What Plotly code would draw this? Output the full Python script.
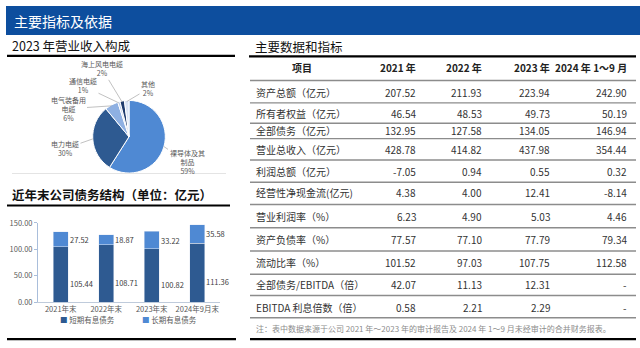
import math
import plotly.graph_objects as go

# ---- data -------------------------------------------------------------
pie_labels = ["裸导体及其制品", "电力电缆", "电气装备用电缆", "通信电缆", "海上风电电缆", "其他"]
pie_values = [59, 30, 6, 1, 2, 2]
pie_text = ["裸导体及其<br>制品<br>59%", "电力电缆<br>30%", "电气装备用<br>电缆<br>6%",
            "通信电缆<br>1%", "海上风电电缆<br>2%", "其他<br>2%"]

debt_years = ["2021年末", "2022年末", "2023年末", "2024年9月末"]
short_debt = [105.44, 108.71, 100.82, 111.36]
long_debt = [27.52, 18.87, 33.22, 35.58]

table_header = ["项目", "2021 年", "2022 年", "2023 年", "2024 年 1～9 月"]
row_names = ["资产总额（亿元）", "所有者权益（亿元）", "全部债务（亿元）", "营业总收入（亿元）",
             "利润总额（亿元）", "经营性净现金流(亿元)", "营业利润率（%）", "资产负债率（%）",
             "流动比率（%）", "全部债务/EBITDA（倍）", "EBITDA 利息倍数（倍）"]
col_2021 = ["207.52", "46.54", "132.95", "428.78", "-7.05", "4.38", "6.23", "77.57", "101.52", "42.07", "0.58"]
col_2022 = ["211.93", "48.53", "127.58", "414.82", "0.94", "4.00", "4.90", "77.10", "97.03", "11.13", "2.21"]
col_2023 = ["223.94", "49.73", "134.05", "437.98", "0.55", "12.41", "5.03", "77.79", "107.75", "12.31", "2.29"]
col_2024 = ["242.90", "50.19", "146.94", "354.44", "0.32", "-8.14", "4.46", "79.34", "112.58", "-", "-"]
note_text = "注：表中数据来源于公司 2021 年～2023 年的审计报告及 2024 年 1～9 月未经审计的合并财务报表。"

# ---- page geometry (pixels) --------------------------------------------
W, H = 640, 348
FONT = "Noto Sans CJK SC, Noto Sans, sans-serif"
BLUE = "#0D4E9E"
DARK = "#2E5A91"
LIGHT = "#4F89D3"


def px(x):
    return x / W


def py(y):
    return 1 - y / H


fig = go.Figure()
shapes = []
annotations = []


def hline(x0, x1, y, color="#000000", width=2.0):
    shapes.append(dict(type="line", xref="paper", yref="paper",
                       x0=px(x0), x1=px(x1), y0=py(y), y1=py(y),
                       line=dict(color=color, width=width)))


def text(x, y, s, size=10, color="#333333", xanchor="left", bold=False):
    annotations.append(dict(xref="paper", yref="paper", x=px(x), y=py(y), text=f"<b>{s}</b>" if bold else s,
                            showarrow=False, xanchor=xanchor, yanchor="middle",
                            font=dict(family=FONT, size=size, color=color)))


# banner
shapes.append(dict(type="rect", xref="paper", yref="paper", x0=px(6), x1=px(640), y0=py(30), y1=py(0),
                   fillcolor=BLUE, line=dict(width=0), layer="below"))
text(12, 15, "主要指标及依据", size=14, color="#FFFFFF")

# section titles and rules
text(10, 41, "2023 年营业收入构成", size=12.5, color="#111111")
hline(7, 235, 51.5, width=2.2)
text(253, 42, "主要数据和指标", size=12.5, color="#111111")
hline(249, 636, 52, width=2.2)
hline(12, 226, 173, color="#E4E4E4", width=1)
text(10, 195, "近年末公司债务结构（单位：亿元）", size=12.5, color="#111111", bold=True)
hline(7, 230, 206, width=2.2)
hline(7, 236, 344, width=2.2)

# ---- pie: 2023 revenue composition ------------------------------------
pie_colors = ["#4F89D3", "#2E5A91", "#8EB0E2", "#B9CDEC", "#1E3C6E", "#D7E3F5"]
cx, cy, r = 129, 135, 37.5
fig.add_trace(go.Pie(labels=pie_labels, values=pie_values, sort=False, direction="clockwise",
                     rotation=0, textinfo="none", hoverinfo="label+percent",
                     marker=dict(colors=pie_colors, line=dict(color="#FFFFFF", width=1)),
                     domain=dict(x=[px(cx - r), px(cx + r)], y=[py(cy + r), py(cy - r)]),
                     showlegend=False))

# label anchor spots (pixel centres of each label block)
label_spots = {
    "裸导体及其制品": (187, 161),
    "电力电缆": (65, 147),
    "电气装备用电缆": (68, 106),
    "通信电缆": (83, 83),
    "海上风电电缆": (102, 66),
    "其他": (148, 86),
}
total = sum(pie_values)
cum = 0.0
for lab, val, txt in zip(pie_labels, pie_values, pie_text):
    mid = (cum + val / 2) / total
    cum += val
    ang = 2 * math.pi * mid
    hx = cx + r * 0.97 * math.sin(ang)
    hy = cy - r * 0.97 * math.cos(ang)
    tx, ty = label_spots[lab]
    annotations.append(dict(xref="paper", yref="paper", x=px(hx), y=py(hy), text=txt,
                            showarrow=True, arrowhead=0, arrowwidth=0.7, arrowcolor="#A6A6A6",
                            ax=tx - hx, ay=ty - hy, standoff=0,
                            font=dict(family=FONT, size=7, color="#595959"), align="center"))

# ---- stacked bars: debt structure -------------------------------------
fig.add_trace(go.Bar(x=debt_years, y=short_debt, name="短期有息债务", marker_color=DARK,
                     showlegend=False, xaxis="x", yaxis="y"))
fig.add_trace(go.Bar(x=debt_years, y=long_debt, name="长期有息债务", marker_color=LIGHT,
                     showlegend=False, xaxis="x", yaxis="y"))

for yr, s, l in zip(debt_years, short_debt, long_debt):
    annotations.append(dict(xref="x", yref="y", x=yr, y=s / 2, text=f"{s:.2f}", showarrow=False,
                            xanchor="left", xshift=7, yshift=-9,
                            font=dict(family=FONT, size=7.5, color="#404040")))
    annotations.append(dict(xref="x", yref="y", x=yr, y=s + l / 2, text=f"{l:.2f}", showarrow=False,
                            xanchor="left", xshift=7,
                            font=dict(family=FONT, size=7.5, color="#404040")))

# legend entries
text(58, 324, f"<span style='color:{DARK}'>■</span> 短期有息债务", size=7.5, color="#595959")
text(140, 324, f"<span style='color:{LIGHT}'>■</span> 长期有息债务", size=7.5, color="#595959")

# ---- data table --------------------------------------------------------
col_right = [418, 484, 552, 629]
header_y = 64
row_y = [89, 111, 129, 148, 171, 193, 217, 241, 265, 288, 311]
rule_y = [77, 100, 121, 137, 159, 182, 205, 229, 253, 277, 299, 322]

text(302, header_y, table_header[0], size=10, color="#222222", xanchor="center", bold=True)
for xr, h in zip(col_right, table_header[1:]):
    text(xr, header_y, h, size=10, color="#222222", xanchor="right", bold=True)

for i, name in enumerate(row_names):
    y = row_y[i]
    text(254, y, name, size=10, color="#333333")
    for xr, col in zip(col_right, [col_2021, col_2022, col_2023, col_2024]):
        text(xr, y, col[i], size=10, color="#333333", xanchor="right")

for y in rule_y:
    hline(250, 636, y, color="#8C8C8C", width=1.4)
text(254, 333, note_text, size=8, color="#8C8C8C")
hline(250, 636, 344, width=2.4)

fig.update_layout(
    width=W, height=H, margin=dict(l=0, r=0, t=0, b=0),
    paper_bgcolor="#FFFFFF", plot_bgcolor="#FFFFFF",
    barmode="stack", bargap=0.67,
    shapes=shapes, annotations=annotations,
    xaxis=dict(domain=[px(38), px(220)], anchor="y", range=[-0.5, 3.5], showline=True,
               linecolor="#BFCBDB", linewidth=1, ticks="", showgrid=False, zeroline=False,
               tickfont=dict(family=FONT, size=7.5, color="#595959")),
    yaxis=dict(domain=[py(306), py(224)], anchor="x", range=[0, 150],
               tickvals=[0, 50, 100, 150], ticktext=[f"{v:.2f}" for v in [0, 50, 100, 150]],
               showline=True, linecolor="#A9BEDB", linewidth=1, ticks="outside", ticklen=3,
               tickcolor="#A9BEDB", showgrid=False, zeroline=False,
               tickfont=dict(family=FONT, size=7.5, color="#595959")),
)

fig.write_html("out.html")
